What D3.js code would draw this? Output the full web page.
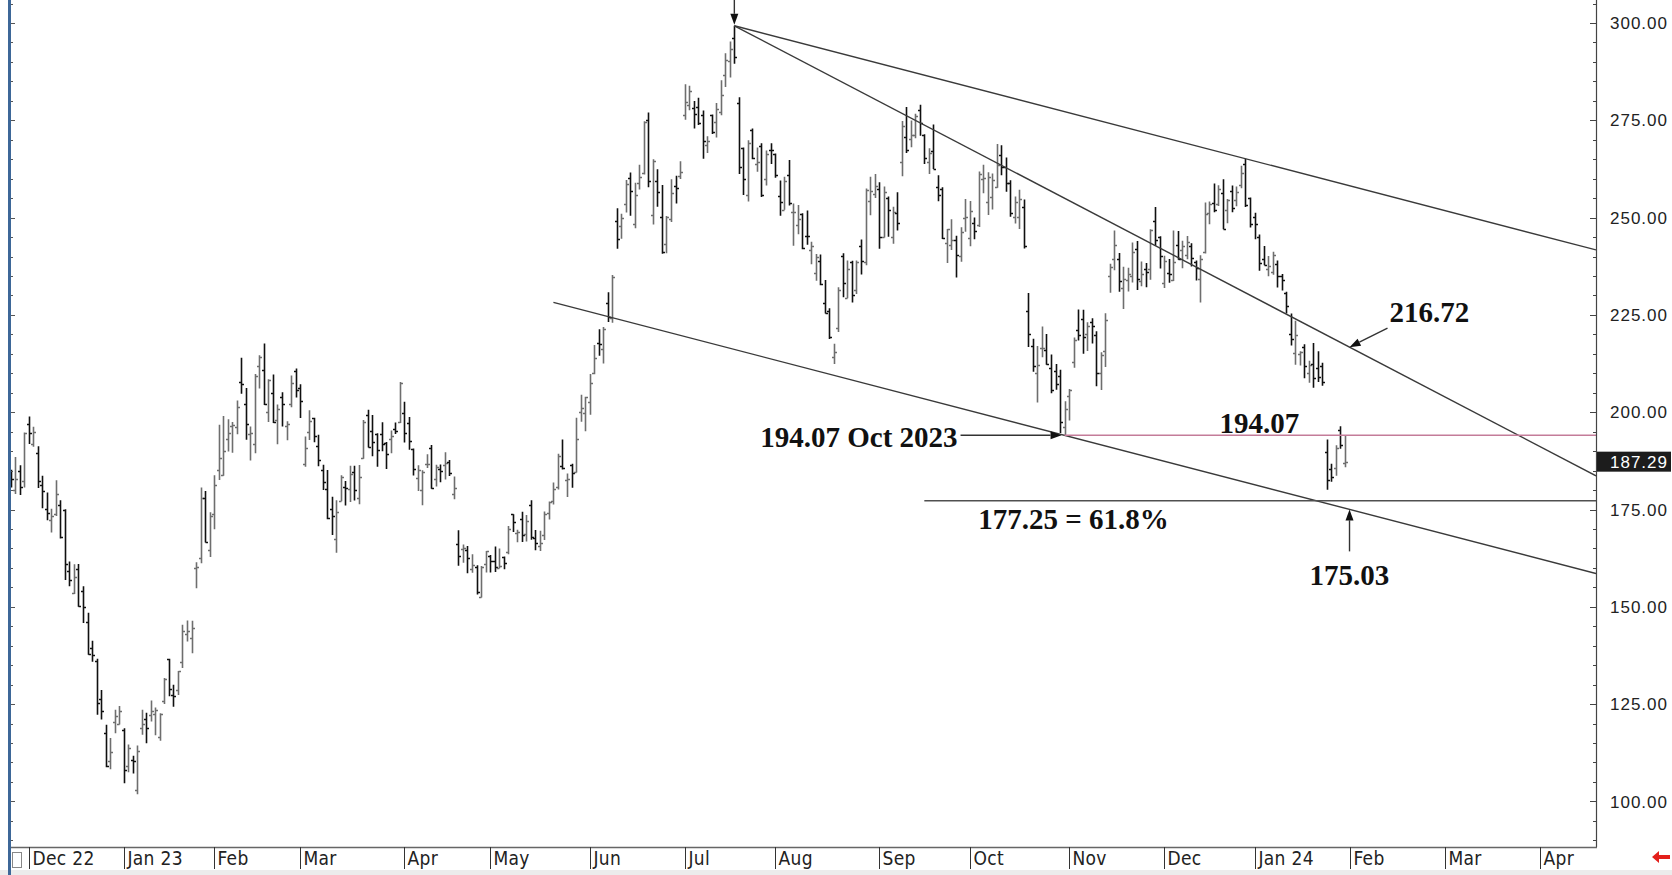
<!DOCTYPE html>
<html lang="en">
  <head>
    <meta charset="UTF-8" />
    <title>TSLA daily bars</title>
    <script src="https://cdn.jsdelivr.net/npm/d3@7"></script>
    <style>
      body {
        margin: 0;
        padding: 0;
        background: #fff;
      }
      svg {
        display: block;
      }
      .note {
        font-family: 'Liberation Serif', 'Times New Roman', serif;
        font-weight: bold;
        font-size: 29px;
        fill: #111;
      }
      .ylab {
        font-family: 'Liberation Sans', Arial, sans-serif;
        font-size: 17px;
        letter-spacing: 1px;
        fill: #222;
      }
      .mlab {
        font-family: 'Liberation Sans Narrow', 'DejaVu Sans Condensed', 'Liberation Sans', sans-serif;
        font-size: 19px;
        letter-spacing: 0.3px;
        fill: #222;
      }
    </style>
  </head>

  <body>
    <script>
      // ---- data ----
      // trading days: weekdays minus exchange holidays (the future part of the axis keeps all weekdays)
      const firstDay = '2022-11-25';
      const lastDay = '2024-04-19';
      const holidays = ['2022-12-26', '2023-01-02', '2023-01-16', '2023-02-20', '2023-04-07', '2023-05-29',
        '2023-06-19', '2023-07-04', '2023-09-04', '2023-11-23', '2023-12-25', '2024-01-01', '2024-01-15'];

      const opens = [
        185.06, 179.96, 184.99, 182.43,
        197.08, 191.78, 189.44, 181.22, 175.03, 172.20, 173.84, 176.10, 174.87, 159.25, 153.44, 159.64, 154.00, 146.05, 139.34, 136.00, 126.37, 117.50, 110.35, 120.39, 119.95,
        118.47, 109.11, 110.51, 103.00, 118.96, 121.07, 122.09, 122.56, 116.55, 125.70, 136.56, 127.26, 128.68, 135.87, 143.00, 141.91, 159.97, 162.43, 178.05, 164.57,
        173.89, 185.11, 183.95, 193.01, 196.43, 196.10, 207.78, 202.23, 194.42, 191.94, 211.76, 210.78, 199.99, 204.99, 197.93, 203.91, 196.33, 202.03, 210.59,
        206.21, 186.74, 194.80, 198.54, 191.38, 185.04, 180.25, 175.13, 167.46, 177.31, 180.80, 180.37, 184.52, 178.08, 188.28, 199.30, 195.26, 194.42, 194.42, 192.00, 193.13, 195.58, 197.53,
        199.91, 197.32, 190.52, 183.08, 179.94, 186.69, 190.74, 182.96, 185.36, 186.32, 187.15, 179.10, 166.17, 164.80, 164.65, 159.82, 160.29, 152.64, 160.90,
        163.17, 161.88, 160.01, 162.71, 163.97, 173.72, 168.95, 172.55, 168.70, 176.07, 167.66, 165.65, 168.41, 174.22, 177.17, 180.70, 186.20, 182.56, 186.54, 184.62, 200.10, 199.78,
        202.59, 210.15, 217.80, 216.14, 228.00, 224.22, 249.07, 247.94, 253.51, 260.17, 248.40, 258.92, 261.50, 275.13, 250.77, 259.29, 250.07, 243.24, 249.70, 258.03, 260.60,
        276.49, 278.82, 278.09, 278.43, 276.47, 268.65, 276.33, 274.59, 277.01, 286.63, 290.15, 296.04, 279.56, 268.00, 255.85, 272.38, 263.66, 268.31, 259.86, 267.48,
        266.26, 255.57, 252.04, 260.97, 251.45, 248.15, 250.87, 245.40, 241.77, 235.70, 238.73, 228.02, 226.06, 214.12, 221.55, 240.25, 229.34, 238.66, 231.31, 242.58, 238.58, 254.20, 255.98,
        257.26, 245.00, 255.14, 245.07, 251.22, 264.27, 270.76, 270.07, 271.32, 277.55, 271.16, 264.35, 267.04, 257.85, 257.40, 243.38, 242.98, 244.26, 240.02, 250.00,
        244.81, 248.61, 248.14, 260.00, 253.98, 255.31, 257.75, 266.20, 262.92, 258.90, 250.05, 250.10, 252.70, 225.95, 217.01, 210.00, 216.50, 215.88, 211.32, 210.60, 209.28, 196.12,
        204.04, 212.97, 221.15, 223.98, 219.98, 223.15, 219.75, 210.03, 215.60, 235.03, 239.29, 239.49, 232.00, 234.04, 235.04, 242.04, 233.75, 236.89, 236.68, 249.21, 245.14,
        233.14, 235.75, 233.87, 242.92, 241.55, 240.27, 242.74, 238.55, 234.19, 241.22, 251.21, 253.78, 253.48, 256.41, 251.90, 256.76, 254.49, 258.35, 263.66, 255.10,
        250.08, 244.98, 239.25, 236.86, 236.14, 238.11, 235.10, 230.57, 220.08, 215.10, 214.86, 216.88, 209.99, 212.26, 211.30, 211.88, 189.70, 185.50, 185.63, 195.33, 187.00
      ];
      const highs = [
        185.20, 188.50, 186.38, 194.76,
        198.92, 196.25, 191.27, 183.65, 179.38, 175.20, 182.50, 177.37, 175.05, 161.62, 160.93, 160.99, 155.25, 148.47, 141.26, 136.63, 128.62, 119.67, 116.27, 123.57, 124.48,
        118.80, 114.59, 111.75, 114.39, 123.52, 122.76, 125.95, 124.13, 122.63, 131.70, 136.68, 129.99, 133.51, 145.38, 146.50, 146.41, 161.42, 180.68, 179.77, 174.30,
        183.81, 196.76, 199.00, 198.17, 197.50, 203.00, 214.00, 206.20, 196.30, 209.82, 214.66, 217.65, 208.44, 209.71, 201.99, 205.14, 197.67, 209.42, 211.23,
        207.20, 193.75, 200.48, 198.60, 194.20, 186.50, 185.18, 178.29, 177.35, 183.80, 182.34, 186.22, 186.22, 186.44, 198.00, 200.66, 199.31, 194.57, 197.39, 192.35, 195.29, 197.33, 207.79,
        202.69, 198.74, 190.68, 186.39, 185.10, 189.19, 191.58, 186.50, 186.57, 189.69, 187.69, 183.50, 169.70, 166.00, 165.65, 163.47, 160.67, 160.48, 164.33,
        163.28, 165.49, 165.00, 162.95, 170.79, 173.80, 169.82, 174.43, 173.57, 177.38, 169.76, 169.52, 174.50, 177.06, 181.95, 189.32, 192.96, 184.22, 186.78, 198.60, 204.48, 203.95,
        209.80, 217.25, 221.29, 221.91, 230.83, 235.23, 252.42, 250.97, 259.68, 261.57, 258.95, 263.60, 274.75, 276.99, 265.00, 262.45, 258.37, 250.39, 259.88, 260.74, 264.45,
        284.25, 283.85, 279.97, 280.78, 277.52, 270.93, 276.52, 279.45, 285.30, 292.23, 295.26, 299.29, 280.93, 268.00, 269.85, 272.90, 268.04, 269.13, 267.25, 269.08,
        266.47, 259.52, 260.49, 264.77, 253.65, 253.24, 251.10, 251.80, 243.79, 240.66, 240.50, 233.97, 226.74, 217.58, 232.13, 240.82, 238.98, 238.92, 239.00, 244.38, 257.48, 260.51, 261.18,
        259.08, 258.00, 255.39, 252.81, 256.52, 274.85, 278.39, 274.98, 276.71, 278.98, 271.44, 267.85, 273.93, 260.86, 257.79, 247.10, 249.55, 245.33, 247.55, 254.77,
        254.28, 250.02, 261.86, 263.60, 261.65, 261.36, 268.94, 268.60, 265.41, 259.60, 255.40, 257.18, 254.63, 230.61, 218.86, 216.98, 222.05, 220.10, 214.80, 212.41, 210.88, 202.80,
        205.99, 219.20, 226.37, 226.32, 223.12, 224.15, 220.80, 215.38, 225.40, 238.14, 246.70, 240.88, 237.39, 237.10, 243.62, 244.01, 238.75, 238.33, 247.00, 252.75, 245.22,
        240.19, 239.37, 246.66, 246.57, 244.08, 245.27, 243.44, 238.99, 240.30, 253.88, 254.13, 258.74, 258.34, 259.84, 254.80, 258.22, 257.97, 263.34, 265.13, 255.19,
        251.25, 245.68, 242.70, 240.12, 241.25, 238.96, 235.50, 230.93, 225.34, 223.49, 215.67, 217.45, 213.19, 217.80, 215.65, 212.73, 193.00, 186.78, 191.48, 196.36, 193.97
      ];
      const lows = [
        180.63, 179.00, 178.75, 180.63,
        191.80, 191.11, 180.55, 175.33, 172.22, 169.06, 173.36, 167.52, 156.91, 155.31, 153.28, 150.04, 145.82, 137.66, 135.89, 122.26, 121.02, 108.76, 108.24, 117.50, 119.75,
        104.64, 107.52, 107.16, 101.81, 117.11, 114.92, 120.51, 117.00, 115.60, 125.02, 127.01, 124.31, 127.35, 134.27, 141.10, 138.07, 154.76, 161.17, 166.50, 162.78,
        169.93, 182.61, 183.69, 189.92, 189.55, 194.31, 204.77, 192.89, 187.61, 189.44, 206.11, 201.84, 197.50, 197.22, 191.78, 196.33, 192.80, 201.26, 203.75,
        198.52, 186.01, 192.88, 192.30, 186.10, 180.00, 172.51, 168.44, 163.91, 177.14, 176.03, 176.93, 177.33, 176.35, 188.04, 190.95, 188.65, 185.98, 189.94, 185.43, 189.44, 194.42, 197.20,
        192.20, 190.32, 183.76, 179.74, 176.11, 185.65, 180.31, 180.94, 182.01, 182.69, 183.58, 177.65, 160.56, 161.32, 158.61, 158.75, 153.14, 152.37, 158.81,
        158.83, 158.93, 159.91, 159.65, 163.51, 169.19, 166.56, 166.68, 166.79, 167.23, 164.55, 164.35, 167.19, 172.45, 176.31, 180.11, 185.26, 178.22, 180.58, 184.53, 197.53, 195.12,
        199.37, 209.75, 214.52, 212.53, 223.20, 223.01, 242.02, 244.59, 251.34, 250.50, 247.29, 257.21, 261.07, 257.78, 248.25, 252.80, 240.70, 240.85, 248.89, 253.61, 259.89,
        275.11, 277.60, 272.88, 273.77, 265.10, 266.60, 271.46, 270.60, 276.31, 283.57, 286.01, 289.52, 261.20, 255.80, 254.12, 265.00, 261.75, 255.30, 258.23, 263.78,
        260.25, 250.49, 252.00, 253.11, 242.76, 245.72, 241.90, 243.00, 238.02, 233.75, 232.61, 225.38, 218.83, 212.36, 220.58, 229.55, 229.29, 228.18, 230.35, 235.35, 237.77, 250.59, 255.05,
        242.01, 244.86, 245.06, 243.27, 246.67, 260.61, 266.60, 268.10, 270.42, 271.00, 263.76, 261.20, 262.46, 254.21, 244.48, 238.31, 241.66, 234.58, 238.65, 246.35,
        242.62, 244.45, 247.60, 256.25, 250.65, 252.05, 257.65, 260.90, 256.63, 250.22, 248.48, 247.08, 242.08, 216.78, 210.42, 202.51, 214.11, 212.20, 204.88, 205.77, 194.67, 194.07,
        197.85, 211.45, 218.40, 215.00, 215.72, 217.64, 206.68, 205.69, 211.61, 230.72, 236.45, 230.96, 226.54, 231.02, 233.34, 231.40, 232.33, 232.10, 234.01, 242.76, 236.91,
        231.90, 233.29, 233.70, 239.17, 236.98, 239.27, 237.45, 233.87, 228.20, 240.79, 248.30, 251.36, 253.01, 247.00, 248.55, 251.37, 252.91, 257.52, 252.71, 247.43,
        244.41, 236.32, 237.73, 234.90, 235.30, 232.04, 231.29, 225.37, 217.15, 212.18, 212.01, 208.74, 207.56, 206.27, 207.75, 206.77, 180.06, 182.10, 183.67, 190.61, 185.85
      ];
      const closes = [
        182.86, 182.92, 180.83, 194.70,
        194.70, 194.86, 182.45, 179.82, 174.04, 173.44, 179.05, 167.82, 160.95, 156.80, 157.67, 150.23, 149.87, 137.80, 137.57, 125.35, 123.15, 109.10, 112.71, 121.82, 123.18,
        108.10, 113.64, 110.34, 113.06, 119.77, 118.85, 123.22, 123.56, 122.40, 131.49, 128.78, 127.17, 133.42, 143.75, 143.89, 144.43, 160.27, 177.90, 166.66, 173.22,
        181.41, 188.27, 189.98, 194.76, 196.81, 201.29, 207.32, 196.89, 194.64, 209.25, 214.24, 202.04, 208.31, 197.37, 200.86, 202.07, 196.88, 207.63, 205.71,
        202.77, 190.90, 197.79, 193.81, 187.71, 182.00, 172.92, 173.44, 174.48, 183.26, 180.45, 184.13, 180.13, 183.25, 197.58, 191.15, 192.22, 190.41, 191.81, 189.19, 193.88, 195.28, 207.46,
        194.77, 192.58, 185.52, 185.06, 184.51, 186.79, 180.54, 185.90, 185.00, 187.04, 184.31, 180.59, 162.99, 165.08, 162.55, 160.67, 153.75, 160.19, 164.31,
        161.83, 160.31, 160.61, 161.20, 170.06, 171.79, 169.15, 168.54, 172.08, 167.98, 166.35, 166.52, 173.86, 176.89, 180.14, 188.87, 185.77, 182.90, 184.47, 193.17, 201.16, 203.93,
        207.52, 213.97, 217.61, 221.31, 224.57, 234.86, 244.40, 249.83, 258.71, 256.79, 255.90, 260.54, 274.45, 259.46, 264.61, 256.60, 241.05, 250.21, 256.24, 257.50, 261.77,
        279.82, 282.48, 276.54, 274.43, 269.61, 269.79, 271.99, 277.90, 281.38, 290.38, 293.34, 291.26, 262.90, 260.02, 269.06, 265.28, 264.35, 255.71, 266.44, 267.43,
        261.07, 254.11, 259.32, 253.86, 251.45, 249.70, 242.19, 245.34, 242.65, 239.76, 232.96, 225.60, 219.22, 215.49, 231.28, 233.19, 236.86, 230.04, 238.59, 238.82, 257.18, 256.90, 258.08,
        245.01, 256.49, 251.92, 251.49, 248.50, 273.58, 267.48, 271.30, 276.04, 274.39, 265.28, 266.50, 262.59, 255.70, 244.88, 246.99, 244.12, 240.50, 246.38, 250.22,
        251.60, 246.53, 261.16, 260.05, 260.53, 259.67, 263.62, 262.99, 258.87, 251.12, 253.92, 254.85, 242.68, 220.11, 211.99, 212.08, 216.52, 212.42, 205.76, 207.30, 197.36, 200.84,
        205.66, 218.51, 219.96, 219.27, 222.18, 222.11, 209.98, 214.65, 223.71, 237.41, 242.84, 233.59, 234.30, 235.60, 241.20, 234.21, 235.45, 236.08, 246.72, 244.14, 240.08,
        238.83, 235.58, 238.72, 239.37, 242.64, 243.84, 239.74, 237.01, 239.29, 251.05, 253.50, 252.08, 257.22, 247.14, 254.50, 252.54, 256.61, 261.44, 253.18, 248.48,
        248.42, 238.45, 237.93, 237.49, 240.45, 234.96, 233.94, 227.22, 218.89, 219.91, 215.55, 211.88, 212.19, 208.80, 209.14, 207.83, 182.63, 183.25, 190.93, 191.59, 187.29
      ];

      const yTickLabels = [100, 125, 150, 175, 200, 225, 250, 275, 300];
      const lastPrice = 187.29;

      // trend lines: two anchor points [day, price], drawn on to the right edge
      const trendLines = [
        { from: ['2023-07-19', 299.29], through: ['2023-12-28', 265.13] },
        { from: ['2023-07-19', 299.29], through: ['2024-02-01', 216.72] },
        { from: ['2023-05-19', null], anchor: ['2023-10-31', 194.07], through: ['2024-02-01', 175.03] }
      ];
      const octLow = ['2023-10-31', 194.07];
      const fibLevel = ['2023-09-18', 177.25];
      const target1 = ['2024-02-01', 216.72];
      const target2 = ['2024-02-01', 175.03];
      const peak = ['2023-07-19', 299.29];

      // ---- layout ----
      const width = 1672;
      const height = 875;
      const plotLeft = 11;
      const plotRight = 1596;
      const plotBottom = 847;

      const parseDay = d3.utcParse('%Y-%m-%d');
      const fmtDay = d3.utcFormat('%Y-%m-%d');
      const holidaySet = new Set(holidays);
      const days = d3
        .utcDays(parseDay(firstDay), d3.utcDay.offset(parseDay(lastDay), 1))
        .filter((d) => d.getUTCDay() !== 0 && d.getUTCDay() !== 6 && !holidaySet.has(fmtDay(d)));
      const idx = (s) => days.findIndex((d) => fmtDay(d) === s);

      const x = d3
        .scaleLinear()
        .domain([idx('2022-12-01'), idx('2024-04-01')])
        .range([28.7, 1539.5]);
      const y = d3.scaleLinear().domain([100, 300]).range([801.4, 23]);
      const rightIdx = x.invert(plotRight);

      const svg = d3.select('body').append('svg').attr('width', width).attr('height', height);

      svg.append('defs').append('clipPath').attr('id', 'plot')
        .append('rect').attr('x', plotLeft).attr('y', 0).attr('width', plotRight - plotLeft).attr('height', plotBottom);

      // bottom strip
      svg.append('rect').attr('x', 0).attr('y', 870).attr('width', width).attr('height', 5).attr('fill', '#ececec');

      const g = svg.append('g').attr('clip-path', 'url(#plot)');

      // bars
      const bars = closes.map((c, i) => ({ i, o: opens[i], h: highs[i], l: lows[i], c }));
      g.selectAll('path.bar')
        .data(bars)
        .join('path')
        .attr('class', 'bar')
        .attr('d', (d) => {
          const bx = Math.round(x(d.i)) + 0.5;
          const yo = Math.round(y(d.o)) + 0.5;
          const yc = Math.round(y(d.c)) + 0.5;
          return `M${bx},${y(d.h)}V${y(d.l)}M${bx - 2.5},${yo}H${bx}M${bx},${yc}H${bx + 2.5}`;
        })
        .attr('fill', 'none')
        .attr('stroke', (d) => (d.c >= d.o ? '#6e6e6e' : '#101010'))
        .attr('stroke-width', 1.6);

      // price at an index on a line through two points
      const lineAt = (p, q, i) => p[1] + ((q[1] - p[1]) * (i - p[0])) / (q[0] - p[0]);

      trendLines.forEach((t) => {
        const a = t.anchor || t.from;
        const p = [idx(a[0]), a[1]];
        const q = [idx(t.through[0]), t.through[1]];
        const i0 = idx(t.from[0]);
        g.append('line')
          .attr('x1', x(i0)).attr('y1', y(lineAt(p, q, i0)))
          .attr('x2', x(rightIdx)).attr('y2', y(lineAt(p, q, rightIdx)))
          .attr('stroke', '#3a3a3a')
          .attr('stroke-width', 1.4);
      });

      // horizontal levels
      g.append('line')
        .attr('x1', x(idx(octLow[0]))).attr('x2', plotRight)
        .attr('y1', y(octLow[1])).attr('y2', y(octLow[1]))
        .attr('stroke', '#c47c99').attr('stroke-width', 1.6);
      g.append('line')
        .attr('x1', x(idx(fibLevel[0]))).attr('x2', plotRight)
        .attr('y1', y(fibLevel[1])).attr('y2', y(fibLevel[1]))
        .attr('stroke', '#505050').attr('stroke-width', 1.4);

      // arrows
      function arrow(x1, y1, x2, y2) {
        const ang = Math.atan2(y2 - y1, x2 - x1);
        const len = 11, half = 4;
        const bx = x2 - len * Math.cos(ang), by = y2 - len * Math.sin(ang);
        const nx = -Math.sin(ang) * half, ny = Math.cos(ang) * half;
        svg.append('line')
          .attr('x1', x1).attr('y1', y1).attr('x2', bx).attr('y2', by)
          .attr('stroke', '#333').attr('stroke-width', 1.4);
        svg.append('path')
          .attr('d', `M${x2},${y2}L${bx + nx},${by + ny}L${bx - nx},${by - ny}Z`)
          .attr('fill', '#111');
      }

      const px = x(idx(peak[0]));
      arrow(px, 0, px, y(peak[1]) - 1);

      const ox = x(idx(octLow[0])) - 3, oy = y(octLow[1]);
      arrow(ox - 101, oy, ox, oy);
      svg.append('text').attr('class', 'note').attr('x', ox - 104).attr('y', oy + 12)
        .attr('text-anchor', 'end').text('194.07 Oct 2023');
      svg.append('text').attr('class', 'note').attr('x', ox + 158).attr('y', oy - 2).text('194.07');

      const t1x = x(idx(target1[0])), t1y = y(target1[1]);
      arrow(t1x + 38, t1y - 19, t1x, t1y);
      svg.append('text').attr('class', 'note').attr('x', t1x + 40).attr('y', t1y - 25).text('216.72');

      const t2x = x(idx(target2[0])), t2y = y(target2[1]);
      arrow(t2x, t2y + 42, t2x, t2y);
      svg.append('text').attr('class', 'note').attr('x', t2x - 40).attr('y', t2y + 76).text('175.03');

      const fx = x(idx(fibLevel[0])), fy = y(fibLevel[1]);
      svg.append('text').attr('class', 'note').attr('x', fx + 54).attr('y', fy + 28).text('177.25 = 61.8%');

      // right price axis
      svg.append('line').attr('x1', plotRight + 0.5).attr('x2', plotRight + 0.5)
        .attr('y1', 0).attr('y2', plotBottom).attr('stroke', '#444').attr('stroke-width', 1.2);
      const minor = d3.range(90, 306, 5);
      svg.selectAll('line.rt')
        .data(minor)
        .join('line')
        .attr('class', 'rt')
        .attr('x1', (d) => plotRight - (d % 25 === 0 ? 6 : 3)).attr('x2', plotRight)
        .attr('y1', (d) => Math.round(y(d)) + 0.5).attr('y2', (d) => Math.round(y(d)) + 0.5)
        .attr('stroke', '#444');
      svg.selectAll('text.ylab')
        .data(yTickLabels)
        .join('text')
        .attr('class', 'ylab')
        .attr('x', 1610)
        .attr('y', (d) => y(d))
        .attr('dy', '0.36em')
        .text((d) => d.toFixed(2));

      // last price box
      svg.append('rect').attr('x', 1597).attr('y', y(lastPrice) - 10).attr('width', 74).attr('height', 20).attr('fill', '#1c1c1c');
      svg.append('text').attr('class', 'ylab').attr('x', 1610).attr('y', y(lastPrice)).attr('dy', '0.36em')
        .style('fill', '#fff').text(lastPrice.toFixed(2));

      // left edge bar with ticks
      svg.append('rect').attr('x', 8).attr('y', 0).attr('width', 3).attr('height', height).attr('fill', '#3d6798');
      svg.selectAll('line.lt')
        .data(minor)
        .join('line')
        .attr('class', 'lt')
        .attr('x1', 11).attr('x2', (d) => (d % 25 === 0 ? 15 : 13))
        .attr('y1', (d) => Math.round(y(d)) + 0.5).attr('y2', (d) => Math.round(y(d)) + 0.5)
        .attr('stroke', '#555');

      // time axis
      svg.append('line').attr('x1', plotLeft).attr('x2', plotRight + 1)
        .attr('y1', plotBottom + 0.5).attr('y2', plotBottom + 0.5)
        .attr('stroke', '#666').attr('stroke-width', 1.6);

      const monthStarts = [];
      days.forEach((d, i) => {
        if (i > 0 && d.getUTCMonth() !== days[i - 1].getUTCMonth()) monthStarts.push({ i, d });
      });
      const fmtMonth = d3.utcFormat('%b');
      const fmtMonthYear = d3.utcFormat('%b %y');
      const mg = svg.selectAll('g.month')
        .data(monthStarts)
        .join('g')
        .attr('class', 'month')
        .attr('transform', (m) => `translate(${Math.round(x(m.i)) + 0.5},0)`);
      mg.append('line').attr('y1', plotBottom).attr('y2', 869).attr('stroke', '#333').attr('stroke-width', 1);
      mg.append('text')
        .attr('class', 'mlab')
        .attr('x', 3)
        .attr('y', 865)
        .text((m, k) => (k === 0 || m.d.getUTCMonth() === 0 ? fmtMonthYear(m.d) : fmtMonth(m.d)));

      // small corner box and the red scroll arrow
      svg.append('rect').attr('x', 12.5).attr('y', 852.5).attr('width', 9).attr('height', 15)
        .attr('fill', '#fff').attr('stroke', '#888');
      svg.append('path')
        .attr('d', 'M1652,857 L1659,851 L1659,855 L1670,855 L1670,859 L1659,859 L1659,863 Z')
        .attr('fill', '#e3201b');
    </script>
  </body>
</html>
